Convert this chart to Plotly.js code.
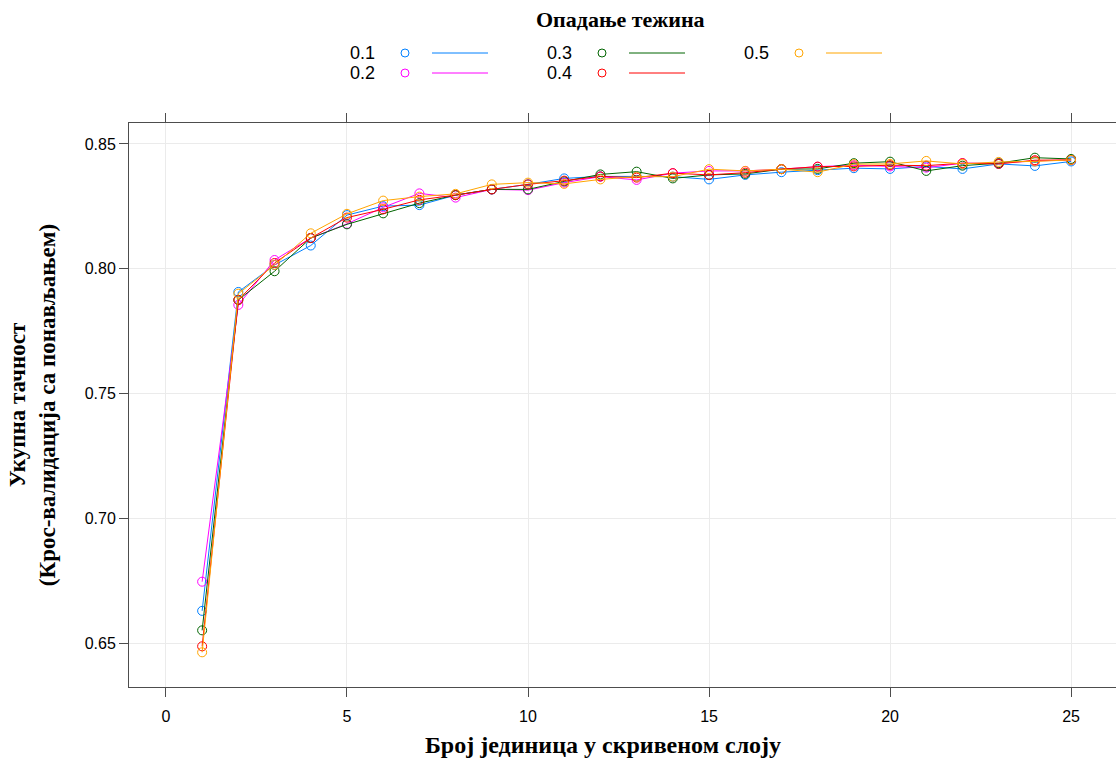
<!DOCTYPE html>
<html>
<head>
<meta charset="utf-8">
<script src="https://cdn.plot.ly/plotly-3.0.1.min.js"></script>
<style>
  html, body { margin: 0; padding: 0; background: #ffffff; }
  #chart { width: 1116px; height: 758px; }
</style>
</head>
<body>
<div id="chart"></div>
<script>
// Number of hidden units
const hiddenUnits = [1, 2, 3, 4, 5, 6, 7, 8, 9, 10, 11, 12, 13, 14, 15, 16, 17, 18, 19, 20, 21, 22, 23, 24, 25];

// Weight-decay values (legend labels)
const decayLabels = ['0.1', '0.2', '0.3', '0.4', '0.5'];

// Overall accuracy (repeated cross-validation) for each weight decay
const acc01 = [0.6629, 0.7907, 0.8015, 0.8093, 0.8215, 0.8251, 0.8255, 0.8295, 0.8318, 0.8338,
               0.8362, 0.8370, 0.8370, 0.8369, 0.8358, 0.8376, 0.8387, 0.8395, 0.8403, 0.8400,
               0.8410, 0.8400, 0.8420, 0.8412, 0.8430];
const acc02 = [0.6746, 0.7855, 0.8035, 0.8123, 0.8180, 0.8246, 0.8302, 0.8285, 0.8318, 0.8315,
               0.8345, 0.8369, 0.8356, 0.8383, 0.8392, 0.8392, 0.8399, 0.8409, 0.8415, 0.8410,
               0.8405, 0.8423, 0.8423, 0.8432, 0.8436];
const acc03 = [0.6551, 0.7875, 0.7990, 0.8123, 0.8178, 0.8222, 0.8263, 0.8295, 0.8318, 0.8318,
               0.8350, 0.8378, 0.8389, 0.8362, 0.8376, 0.8380, 0.8399, 0.8400, 0.8423, 0.8429,
               0.8392, 0.8413, 0.8423, 0.8445, 0.8440];
const acc04 = [0.6487, 0.7875, 0.8023, 0.8123, 0.8205, 0.8238, 0.8276, 0.8295, 0.8318, 0.8338,
               0.8353, 0.8370, 0.8365, 0.8383, 0.8376, 0.8385, 0.8399, 0.8409, 0.8410, 0.8415,
               0.8413, 0.8423, 0.8420, 0.8435, 0.8436];
const acc05 = [0.6463, 0.7900, 0.8015, 0.8142, 0.8220, 0.8273, 0.8289, 0.8300, 0.8338, 0.8345,
               0.8340, 0.8358, 0.8369, 0.8369, 0.8399, 0.8392, 0.8399, 0.8387, 0.8419, 0.8420,
               0.8432, 0.8420, 0.8428, 0.8430, 0.8436];

// Axis ticks
const xTicks = [0, 5, 10, 15, 20, 25];
const yTicks = [0.65, 0.70, 0.75, 0.80, 0.85];

const series = [acc01, acc02, acc03, acc04, acc05];
const colors = ['#0080ff', '#ff00ff', '#006400', '#ff0000', '#ffa500'];

const W = 1116, H = 758;
const margin = { l: 129, r: 0, t: 123, b: 71 };
const plotW = W - margin.l - margin.r;
const plotH = H - margin.t - margin.b;
// pixel -> paper helpers used for the hand-built key and the x label
const px = v => (v - margin.l) / plotW;
const py = v => (H - margin.b - v) / plotH;

const traces = series.map((ys, i) => ({
  type: 'scatter',
  mode: 'lines+markers',
  x: hiddenUnits,
  y: ys,
  name: decayLabels[i],
  showlegend: false,
  line: { color: colors[i], width: 1 },
  marker: { symbol: 'circle-open', size: 9, color: colors[i], line: { width: 1, color: colors[i] } },
  cliponaxis: false
}));

const sansFont = 'Liberation Sans, Arial, sans-serif';
const serifFont = 'Liberation Serif, Times New Roman, serif';

// Key: three columns, two rows, filled column by column
const shapes = [];
const annotations = [];
const colX = [348, 545, 742];
const rowY = [53, 73];
decayLabels.forEach((lab, i) => {
  const c = Math.floor(i / 2), r = i % 2;
  const tx = colX[c], ty = rowY[r];
  annotations.push({
    xref: 'paper', yref: 'paper', x: px(tx), y: py(ty),
    xanchor: 'left', yanchor: 'middle', showarrow: false,
    text: lab, font: { family: sansFont, size: 18, color: '#000' }
  });
  shapes.push({
    type: 'circle', xref: 'paper', yref: 'paper',
    xsizemode: 'pixel', ysizemode: 'pixel',
    xanchor: px(tx + 57), yanchor: py(ty),
    x0: -4, x1: 4, y0: -4, y1: 4,
    line: { color: colors[i], width: 1 }
  });
  shapes.push({
    type: 'line', xref: 'paper', yref: 'paper',
    x0: px(tx + 84), x1: px(tx + 140), y0: py(ty), y1: py(ty),
    line: { color: colors[i], width: 1 }
  });
});
annotations.push({
  xref: 'paper', yref: 'paper', x: px(620), y: py(20),
  xanchor: 'center', yanchor: 'middle', showarrow: false,
  text: 'Опадање тежина',
  font: { family: serifFont, size: 22, color: '#000', weight: 'bold' }
});
// x-axis label
annotations.push({
  xref: 'paper', yref: 'paper', x: px(603), y: py(745),
  xanchor: 'center', yanchor: 'middle', showarrow: false,
  text: 'Број јединица у скривеном слоју',
  font: { family: serifFont, size: 24, color: '#000', weight: 'bold' }
});

const axisCommon = {
  showline: true, linecolor: '#4d4d4d', linewidth: 1, mirror: 'allticks',
  ticks: 'outside', ticklen: 9, tickwidth: 1, tickcolor: '#4d4d4d',
  showgrid: true, gridcolor: '#ebebeb', gridwidth: 1, zeroline: false,
  tickfont: { family: sansFont, size: 16, color: '#000' }
};

const layout = {
  width: W, height: H,
  margin: margin,
  paper_bgcolor: '#ffffff', plot_bgcolor: '#ffffff',
  showlegend: false,
  xaxis: Object.assign({}, axisCommon, {
    range: [-1.02, 26.24],
    tickmode: 'array', tickvals: xTicks, ticktext: xTicks.map(String),
    ticklabelstandoff: 6
  }),
  yaxis: Object.assign({}, axisCommon, {
    range: [0.6324, 0.8584],
    tickmode: 'array', tickvals: yTicks, ticktext: yTicks.map(v => v.toFixed(2)),
    title: {
      text: 'Укупна тачност<br>(Крос-валидација са понављањем)',
      font: { family: serifFont, size: 23, color: '#000', weight: 'bold' },
      standoff: 22
    }
  }),
  shapes: shapes,
  annotations: annotations
};

Plotly.newPlot('chart', traces, layout, { staticPlot: true, displayModeBar: false });
</script>
</body>
</html>
